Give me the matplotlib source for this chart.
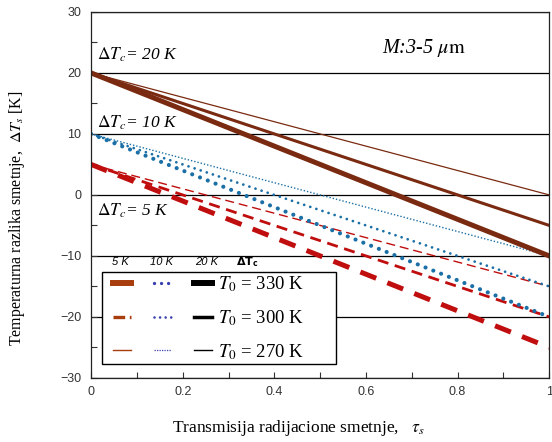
import matplotlib
matplotlib.use('agg')
import matplotlib.pyplot as plt
from matplotlib.lines import Line2D
from matplotlib.legend_handler import HandlerTuple
from matplotlib.ticker import MultipleLocator

plt.rcParams['mathtext.fontset'] = 'stix'

# transmission values where the lines were read
tau = [0.0, 1.0]
# delta T_s [K] at tau = 0 and tau = 1, order: T0 = 330, 300, 270 K
dts_5K = [[5, -25], [5, -20], [5, -15]]
dts_10K = [[10, -20], [10, -15], [10, -10]]
dts_20K = [[20, -10], [20, -5], [20, 0]]
t0_labels = ['330', '300', '270']

red = '#c00d0d'
blue = '#1a6fa6'
brown = '#7a2a10'


# tuple handler that leaves a little room before the first sample
class ShiftedTuple(HandlerTuple):
    def __init__(self, shift, **kw):
        super().__init__(**kw)
        self.shift = shift

    def create_artists(self, legend, orig_handle, xdescent, ydescent, width, height, fontsize, trans):
        return super().create_artists(legend, orig_handle, xdescent - self.shift, ydescent,
                                      width - self.shift, height, fontsize, trans)


fig = plt.figure(figsize=(5.52, 4.42), dpi=100)
ax = fig.add_axes([0.165, 0.145, 0.83, 0.828])

# styles per T0 (thick -> thin)
red_st = [dict(lw=3.6, dashes=(3.4, 2.4)), dict(lw=2.0, dashes=(4.0, 2.4)), dict(lw=1.0, dashes=(6.5, 3.5))]
blue_st = [dict(lw=3.0, dashes=(0.01, 2.0), dash_capstyle='round'),
           dict(lw=2.0, dashes=(0.01, 2.3), dash_capstyle='round'),
           dict(lw=1.0, dashes=(1.0, 1.4))]
brown_st = [dict(lw=3.6), dict(lw=2.2), dict(lw=0.9)]

for ys, st in zip(dts_5K, red_st):
    ax.plot(tau, ys, color=red, **st)
for ys, st in zip(dts_10K, blue_st):
    ax.plot(tau, ys, color=blue, **st)
for ys, st in zip(dts_20K, brown_st):
    ax.plot(tau, ys, color=brown, **st)

ax.set_xlim(0, 1)
ax.set_ylim(-30, 30)
ax.xaxis.set_major_locator(MultipleLocator(0.2))
ax.xaxis.set_minor_locator(MultipleLocator(0.1))
ax.yaxis.set_major_locator(MultipleLocator(10))
ax.yaxis.set_minor_locator(MultipleLocator(5))
ax.set_xticks([0, 0.2, 0.4, 0.6, 0.8, 1.0])
ax.set_xticklabels(['0', '0.2', '0.4', '0.6', '0.8', '1'])
ax.tick_params(which='both', direction='in', length=4, width=0.8, labelsize=9,
               labelfontfamily='Liberation Sans', colors='#333333')
ax.tick_params(axis='y', pad=7)
ax.tick_params(axis='x', pad=6)
ax.grid(axis='y', which='major', color='black', lw=0.9)
for s in ax.spines.values():
    s.set_linewidth(0.9)
    s.set_color('#222222')

serif = 'Liberation Serif'
ax.set_ylabel(r'Temperaturna razlika smetnje,  $\mathit{\Delta T_s}$ [K]', family=serif, fontsize=11.5)
ax.yaxis.set_label_coords(-0.14, 0.437)
ax.set_xlabel(r'Transmisija radijacione smetnje,   $\mathit{\tau_s}$', family=serif, fontsize=12.5)
ax.xaxis.set_label_coords(0.452, -0.11)

for lab, yv in [('20', 23.0), ('10', 11.8), ('5', -2.6)]:
    ax.text(0.012, yv, r'$\mathit{\Delta T_c}$= ' + lab + ' K', family=serif, style='italic',
            fontsize=12.5, va='center', ha='left')
ax.text(0.636, 24.1, r'M:3-5 $\mu\mathrm{m}$', family=serif, style='italic', fontsize=14.5,
        va='center', ha='left')

# legend header
for xv, lab in [(0.063, '5 K'), (0.153, '10 K'), (0.253, '20 K')]:
    ax.text(xv, 0.316, lab, transform=ax.transAxes, family='Liberation Sans', style='italic',
            fontsize=8, ha='center', va='center')
ax.text(0.341, 0.316, r'$\mathbf{\Delta T_c}$', transform=ax.transAxes, fontsize=8,
        math_fontfamily='dejavusans', ha='center', va='center')

lbrown = '#a83d0e'
lblue = '#3a3fb0'
leg_handles = []
leg_brown = [dict(lw=4.3), dict(lw=2.4, dashes=(3.5, 1.4)), dict(lw=1.0)]
leg_blue = [dict(lw=2.4, dashes=(0.01, 2.1), dash_capstyle='round'),
            dict(lw=1.9, dashes=(0.01, 2.1), dash_capstyle='round'),
            dict(lw=0.9, dashes=(1.0, 1.0))]
leg_black = [dict(lw=4.3), dict(lw=2.5), dict(lw=1.0)]
for i in range(3):
    h1 = Line2D([], [], color=lbrown, **leg_brown[i])
    h2 = Line2D([], [], color=lblue, **leg_blue[i])
    h3 = Line2D([], [], color='black', **leg_black[i])
    leg_handles.append((h1, h2, h3))
leg_labels = [r'$T_0$ = ' + t + ' K' for t in t0_labels]
leg = ax.legend(leg_handles, leg_labels,
                handler_map={tuple: ShiftedTuple(6, ndivide=None, pad=1.2)},
                loc='lower left', bbox_to_anchor=(0.024, 0.037, 0.51, 0.262), mode='expand',
                borderaxespad=0, fancybox=False, framealpha=1, edgecolor='black',
                prop={'family': serif, 'size': 13.5}, handlelength=5.7, handletextpad=0.35,
                borderpad=0.15, labelspacing=0.74)
leg.get_frame().set_linewidth(1.0)

fig.savefig('out.png', dpi=100)
